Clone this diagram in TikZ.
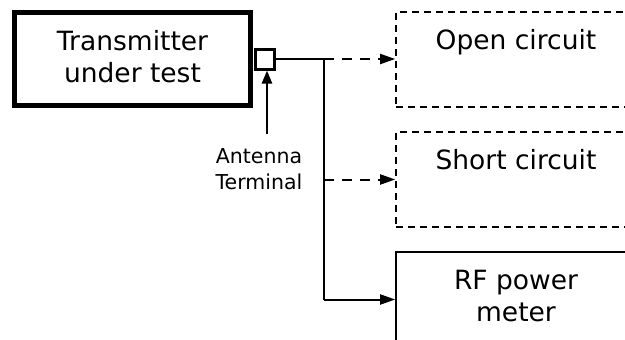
\documentclass[tikz,border=0pt]{standalone}
\usepackage{fontspec}
\setmainfont{DejaVu Sans}
\usetikzlibrary{arrows.meta}
\begin{document}
\begin{tikzpicture}[x=1pt,y=-1pt,
  txbox/.style={draw,line width=5pt,minimum width=236.6pt,minimum height=92.5pt,inner sep=0pt},
  termbox/.style={draw,line width=3pt,minimum width=19pt,minimum height=20pt,inner sep=0pt},
  dbox/.style={draw,dash pattern=on 7pt off 5pt,line width=1.7pt,minimum width=240pt,minimum height=95pt,inner sep=0pt},
  sbox/.style={draw,line width=1.7pt,minimum width=240pt,minimum height=95pt,inner sep=0pt},
  bigtxt/.style={font=\fontsize{26.5}{32}\selectfont,align=center,inner sep=0pt},
  smalltxt/.style={font=\fontsize{20.5}{26}\selectfont,align=center,inner sep=0pt},
  conn/.style={line width=2pt},
  dconn/.style={line width=2pt,dash pattern=on 9.5pt off 8.5pt},
  tip/.style={-{Triangle[length=15pt,width=10pt]}}
]
\useasboundingbox (0,0) rectangle (625,340);
\node[txbox] (tx) at (132.5,58.75) {};
\node[bigtxt] (txt) at (132.5,57) {Transmitter\\under test};
\node[termbox] (term) at (265,59) {};
\node[dbox] (open) at (516,59.5) {};
\node[bigtxt,anchor=base] (opent) at ([yshift=-38pt]open.north) {Open circuit};
\node[dbox] (short) at (516,179.5) {};
\node[bigtxt,anchor=base] (shortt) at ([yshift=-38pt]short.north) {Short circuit};
\node[sbox] (rf) at (516,299.5) {};
\node[bigtxt] (rft) at ([yshift=-45pt]rf.north) {RF power\\meter};
\node[smalltxt] (ant) at (259,169) {Antenna\\Terminal};
\coordinate (junc) at (324,59);
\draw[conn] (term.east) -- (junc);
\draw[conn] (junc) -- (junc |- rf.west);
\draw[dconn,tip] (junc) -- (junc -| open.west);
\draw[dconn,tip] (junc |- short.west) -- (short.west);
\draw[conn,tip] (junc |- rf.west) -- (rf.west);
\draw[line width=2.3pt,-{Triangle[length=13pt,width=10pt]}] ([xshift=2pt,yshift=14pt]ant.north -| term.south) -- ([xshift=2pt]term.south);
\end{tikzpicture}
\end{document}
